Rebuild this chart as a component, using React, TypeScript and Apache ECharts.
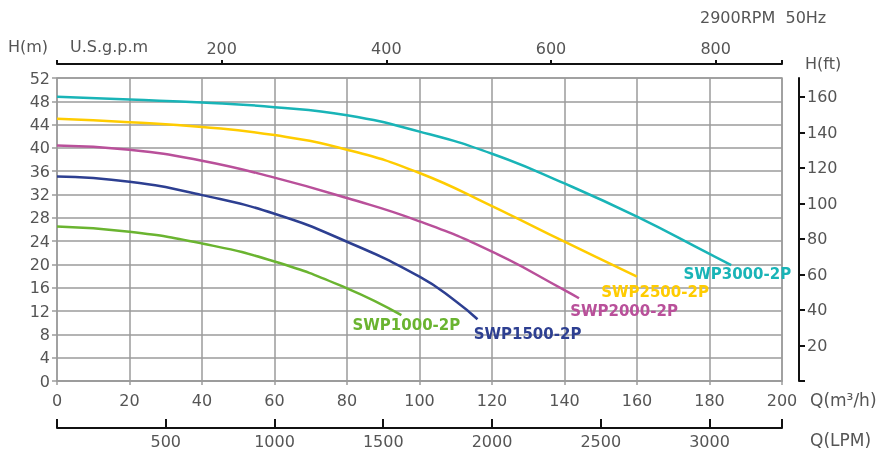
import React, { useEffect, useRef } from "react";
import * as echarts from "echarts";

const qTicksM3h = [0, 20, 40, 60, 80, 100, 120, 140, 160, 180, 200];
const hTicksM = [0, 4, 8, 12, 16, 20, 24, 28, 32, 36, 40, 44, 48, 52];
const hTicksFt = [20, 40, 60, 80, 100, 120, 140, 160];
const qTicksLpm = [500, 1000, 1500, 2000, 2500, 3000];
const qTicksGpm = [200, 400, 600, 800];

const seriesNames = ["SWP1000-2P", "SWP1500-2P", "SWP2000-2P", "SWP2500-2P", "SWP3000-2P"];
const seriesColors = ["#6ab430", "#2d3f91", "#b9509a", "#ffcc00", "#19b4b7"];

const swp1000: number[][] = [[0, 26.5], [20, 25.6], [40, 23.6], [60, 20.5], [80, 15.9], [95, 11.3]];
const swp1500: number[][] = [[0, 35.1], [20, 34.2], [40, 31.9], [60, 28.7], [80, 23.9], [100, 17.9], [110, 13.7], [116, 10.6]];
const swp2000: number[][] = [[0, 40.4], [20, 39.7], [40, 37.8], [60, 34.9], [80, 31.4], [100, 27.4], [120, 22.2], [140, 15.6], [144, 14.2]];
const swp2500: number[][] = [[0, 45.0], [20, 44.4], [40, 43.6], [60, 42.2], [80, 39.7], [100, 35.7], [120, 30.0], [140, 23.9], [160, 17.9]];
const swp3000: number[][] = [[0, 48.8], [20, 48.3], [40, 47.8], [60, 47.0], [80, 45.6], [100, 42.8], [120, 39.0], [140, 33.9], [160, 28.2], [180, 21.8], [186, 19.9]];

const labelOffsets: number[][] = [[5, 10], [50, 15], [45, 13], [18, 15], [6, 9]];

const M3H_MAX = 200;
const H_MAX = 52;
const LPM_PER_M3H = 1000 / 60;
const GPM_PER_M3H = 4.402868;
const FT_PER_M = 3.28084;

const FONT = "DejaVu Sans";
const TXT = "#555555";
const GRID = "#9b9b9b";

export default function App() {
  const ref = useRef<HTMLDivElement>(null);
  useEffect(() => {
    if (!ref.current) return;
    const chart = echarts.init(ref.current, undefined, { renderer: "svg" });
    const all = [swp1000, swp1500, swp2000, swp2500, swp3000];
    const series = all.map((d, i) => ({
      name: seriesNames[i],
      type: "line",
      xAxisIndex: 0,
      yAxisIndex: 0,
      smooth: 0.5,
      symbol: "circle",
      symbolSize: 0,
      showSymbol: true,
      lineStyle: { color: seriesColors[i], width: 2.5 },
      itemStyle: { color: seriesColors[i] },
      data: d.map((p, j) =>
        j === d.length - 1
          ? {
              value: p,
              label: {
                show: true,
                position: "inside",
                formatter: seriesNames[i],
                offset: labelOffsets[i],
                color: seriesColors[i],
                fontFamily: FONT,
                fontWeight: "bold",
                fontSize: 15,
                align: "center",
                verticalAlign: "middle",
              },
            }
          : { value: p }
      ),
    }));
    const fmt = (v: number) => String(Math.round(v));
    const lbl = { color: TXT, fontFamily: FONT, fontSize: 16, formatter: fmt };
    chart.setOption({
      animation: false,
      grid: { left: 57, right: 107, top: 78, bottom: 72, show: true, borderColor: GRID, borderWidth: 1.5, backgroundColor: "#fff" },
      xAxis: [
        {
          type: "value",
          position: "bottom",
          min: 0,
          max: M3H_MAX,
          interval: 20,
          axisLine: { show: true, lineStyle: { color: GRID, width: 1.5 } },
          axisTick: { show: true, length: 4, lineStyle: { color: GRID, width: 1.5 } },
          axisLabel: { ...lbl, margin: 11, customValues: qTicksM3h },
          splitLine: { show: true, lineStyle: { color: GRID, width: 1.5 } },
        },
        {
          type: "value",
          position: "bottom",
          offset: 47,
          min: 0,
          max: M3H_MAX * LPM_PER_M3H,
          interval: 500,
          axisLine: { show: true, onZero: false, lineStyle: { color: "#111", width: 2 } },
          axisTick: { show: true, inside: true, length: 9, lineStyle: { color: "#111", width: 2 } },
          axisLabel: { ...lbl, margin: 5, customValues: qTicksLpm },
          splitLine: { show: false },
        },
        {
          type: "value",
          position: "top",
          offset: 14,
          min: 0,
          max: M3H_MAX * GPM_PER_M3H,
          interval: 200,
          axisLine: { show: true, onZero: false, lineStyle: { color: "#111", width: 2 } },
          axisTick: { show: true, length: 4, lineStyle: { color: "#111", width: 2 } },
          axisLabel: { ...lbl, margin: 8, customValues: qTicksGpm },
          splitLine: { show: false },
        },
      ],
      yAxis: [
        {
          type: "value",
          position: "left",
          min: 0,
          max: H_MAX,
          interval: 2,
          axisLine: { show: false },
          axisTick: { show: true, length: 5, customValues: hTicksM, lineStyle: { color: GRID, width: 1.5 } },
          axisLabel: { ...lbl, margin: 7, customValues: hTicksM },
          splitLine: { show: true, lineStyle: { color: GRID, width: 1.5 } },
        },
        {
          type: "value",
          position: "right",
          offset: 17,
          min: 0,
          max: H_MAX * FT_PER_M,
          interval: 20,
          axisLine: { show: true, onZero: false, lineStyle: { color: "#111", width: 2 } },
          axisTick: { show: true, length: 6, customValues: [0, ...hTicksFt], lineStyle: { color: "#111", width: 2 } },
          axisLabel: { ...lbl, margin: 8, customValues: hTicksFt },
          splitLine: { show: false },
        },
      ],
      graphic: [
        { type: "text", left: 700, top: 9, style: { text: "2900RPM  50Hz", fill: TXT, font: `16px "${FONT}"` } },
        { type: "text", left: 8, top: 38, style: { text: "H(m)", fill: TXT, font: `16px "${FONT}"` } },
        { type: "text", left: 70, top: 38, style: { text: "U.S.g.p.m", fill: TXT, font: `16px "${FONT}"` } },
        { type: "text", left: 805, top: 55, style: { text: "H(ft)", fill: TXT, font: `16px "${FONT}"` } },
        { type: "text", left: 810, top: 391, style: { text: "Q(m³/h)", fill: TXT, font: `17px "${FONT}"` } },
        { type: "text", left: 810, top: 431, style: { text: "Q(LPM)", fill: TXT, font: `17px "${FONT}"` } },
      ],
      series,
    });
    return () => chart.dispose();
  }, []);
  return <div ref={ref} style={{ position: "fixed", left: 0, top: 0, width: 889, height: 453 }} />;
}
